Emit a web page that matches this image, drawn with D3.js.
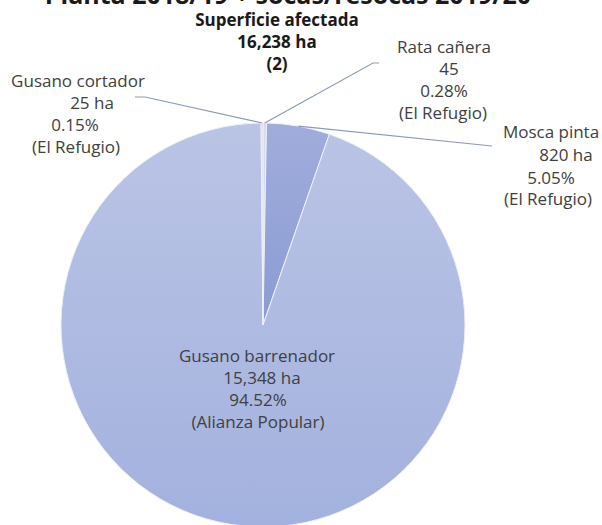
<!DOCTYPE html>
<html>
<head>
<meta charset="utf-8">
<script src="https://cdn.jsdelivr.net/npm/d3@7"></script>
<style>
  body { margin: 0; background: #fff; }
  text { font-family: "Open Sans", sans-serif; }
</style>
</head>
<body>
<div id="holder"></div>
<script>
// datos (orden en el sentido de las agujas desde las 12)
const plagas = ['Rata cañera', 'Mosca pinta', 'Gusano barrenador', 'Gusano cortador'];
const hectareas = [45, 820, 15348, 25];
const unidades = ['', ' ha', ' ha', ' ha'];
const porcentajes = ['0.28%', '5.05%', '94.52%', '0.15%'];
const localidades = ['(El Refugio)', '(El Refugio)', '(Alianza Popular)', '(El Refugio)'];
const titulo = 'Planta 2018/19 + socas/resocas 2019/20';
const subtitulo = ['Superficie afectada', '16,238 ha', '(2)'];

const cfg = {
  width: 602,
  height: 525,
  cx: 263,
  cy: 325,
  r: 202,
  textColor: '#404040',
  lineColor: '#8a9bb8'
};

// posicion de cada linea de las etiquetas [x, y] (centro del texto)
const etiquetas = [
  { lines: [[444, 46], [449, 68], [444, 90], [443, 112]], leader: [[373, 63], [379, 63]] },
  { lines: [[551, 131], [566, 154], [551, 177], [548, 198]], leader: [[492, 146]] },
  { lines: [[257, 355], [262, 377], [258, 399], [258, 421]], leader: null },
  { lines: [[78, 80], [92, 102], [75, 124], [76, 146]], leader: [[145, 97], [135, 97]] }
];

let svg = d3.select('#holder').append('svg')
  .attr('width', cfg.width)
  .attr('height', cfg.height);

let defs = svg.append('defs');
const grads = [
  ['g0', '#d6dbef', '#cdd3ec'],
  ['g1', '#a0acdb', '#8b9cd3'],
  ['g2', '#bac4e5', '#a3b1de'],
  ['g3', '#d6dbef', '#cdd3ec']
];
grads.forEach(g => {
  let lg = defs.append('linearGradient').attr('id', g[0])
    .attr('x1', '0%').attr('y1', '0%').attr('x2', '0%').attr('y2', '100%');
  lg.append('stop').attr('offset', '0%').attr('stop-color', g[1]);
  lg.append('stop').attr('offset', '100%').attr('stop-color', g[2]);
});

let pie = d3.pie().sort(null).value(d => d);
let arcs = pie(hectareas);
let arc = d3.arc().innerRadius(0).outerRadius(cfg.r);

let gPie = svg.append('g').attr('transform', `translate(${cfg.cx},${cfg.cy})`);
gPie.selectAll('path').data(arcs).enter()
  .append('path')
  .attr('d', arc)
  .attr('fill', (d, i) => `url(#${grads[i][0]})`)
  .attr('stroke', '#eef0f7')
  .attr('stroke-width', 1);

// lineas guia
let gLines = svg.append('g');
arcs.forEach((d, i) => {
  let e = etiquetas[i];
  if (!e.leader) return;
  let a = (d.startAngle + d.endAngle) / 2;
  let start = [cfg.cx + Math.sin(a) * cfg.r, cfg.cy - Math.cos(a) * cfg.r];
  let pts = [start].concat(e.leader);
  gLines.append('path')
    .attr('d', d3.line()(pts))
    .attr('fill', 'none')
    .attr('stroke', cfg.lineColor)
    .attr('stroke-width', 1.2);
});

// etiquetas
let gLab = svg.append('g').attr('fill', cfg.textColor).attr('font-size', 17);
plagas.forEach((p, i) => {
  let e = etiquetas[i];
  let textos = [p, d3.format(',')(hectareas[i]) + unidades[i], porcentajes[i], localidades[i]];
  textos.forEach((t, j) => {
    gLab.append('text')
      .attr('x', e.lines[j][0])
      .attr('y', e.lines[j][1])
      .attr('text-anchor', 'middle')
      .attr('dominant-baseline', 'central')
      .text(t);
  });
});

// titulo (cortado en el borde superior, como en el original)
svg.append('text')
  .attr('x', 288).attr('y', 4)
  .attr('text-anchor', 'middle')
  .attr('font-size', 25).attr('font-weight', 'bold')
  .attr('fill', '#1a1a1a')
  .text(titulo);

subtitulo.forEach((t, j) => {
  svg.append('text')
    .attr('x', 277).attr('y', 19 + j * 22)
    .attr('text-anchor', 'middle')
    .attr('dominant-baseline', 'central')
    .attr('font-size', 17).attr('font-weight', 'bold')
    .attr('fill', '#1a1a1a')
    .text(t);
});
</script>
</body>
</html>
